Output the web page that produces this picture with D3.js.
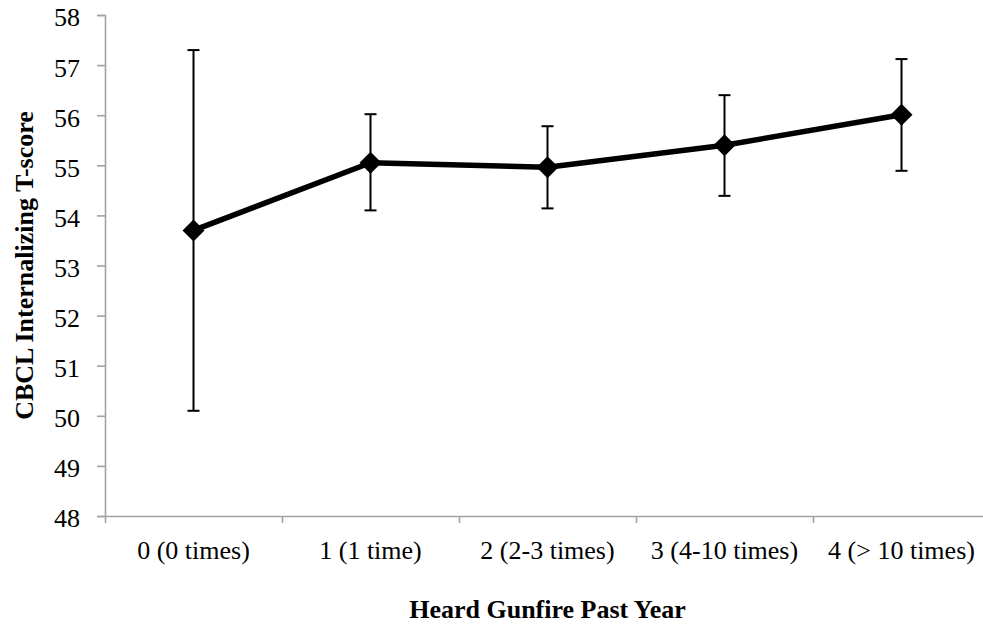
<!DOCTYPE html>
<html>
<head>
<meta charset="utf-8">
<script src="https://cdn.jsdelivr.net/npm/d3@7"></script>
<style>
  html, body { margin: 0; padding: 0; background: #fff; }
  svg { display: block; }
  svg text { font-family: "Times New Roman", Tinos, "Liberation Serif", "DejaVu Serif", serif; fill: #000; }
</style>
</head>
<body>
<svg id="chart" width="983" height="626"></svg>
<script>
// Exposure groups and CBCL internalizing T-score means with error-bar bounds
const categories = ["0 (0 times)", "1 (1 time)", "2 (2-3 times)", "3 (4-10 times)", "4 (> 10 times)"];
const means = [53.70, 55.05, 54.96, 55.40, 56.01];
const upper = [57.30, 56.02, 55.78, 56.40, 57.12];
const lower = [50.10, 54.10, 54.14, 54.39, 54.89];
const yTicks = [48, 49, 50, 51, 52, 53, 54, 55, 56, 57, 58];

const rows = categories.map((c, i) => ({ cat: c, mean: means[i], hi: upper[i], lo: lower[i] }));

const serif = '"Times New Roman", Tinos, "Liberation Serif", "DejaVu Serif", serif';
const svg = d3.select("#chart");
const plotLeft = 105, plotRight = 990, plotTop = 15, plotBottom = 516;
const axisColor = "#a3a3a3";

const x = d3.scaleBand().domain(categories).range([plotLeft, plotRight]).padding(0);
const xEdges = d3.scaleLinear().domain([0, categories.length]).range([plotLeft, plotRight]);
const y = d3.scaleLinear().domain([48, 58]).range([plotBottom, plotTop]);

// Y axis
const gy = svg.append("g")
  .attr("transform", `translate(${plotLeft},0)`)
  .call(d3.axisLeft(y).tickValues(yTicks).tickFormat(d3.format("d")).tickSize(8).tickPadding(17));
gy.attr("font-family", serif);
gy.select(".domain").attr("stroke", axisColor).attr("stroke-width", 1.6);
gy.selectAll(".tick line").attr("stroke", axisColor).attr("stroke-width", 1.6);
gy.selectAll(".tick text")
  .attr("font-family", serif)
  .style("font-size", "26px").attr("fill", "#000").attr("dy", "0.42em");

// X axis: line with tick marks at category boundaries
const gx = svg.append("g")
  .attr("transform", `translate(0,${plotBottom})`)
  .call(d3.axisBottom(xEdges).tickValues(d3.range(categories.length + 1)).tickFormat("").tickSize(7).tickSizeOuter(0));
gx.select(".domain").attr("stroke", axisColor).attr("stroke-width", 1.6);
gx.selectAll(".tick line").attr("stroke", axisColor).attr("stroke-width", 1.6);

// Category labels centred in each band
const gxl = svg.append("g")
  .attr("transform", `translate(0,${plotBottom})`)
  .call(d3.axisBottom(x).tickSize(0).tickPadding(43));
gxl.attr("font-family", serif);
gxl.select(".domain").remove();
gxl.selectAll(".tick text")
  .attr("font-family", serif)
  .style("font-size", "26px").attr("fill", "#000").attr("dy", "0");

// Axis titles
svg.append("text")
  .attr("x", (plotLeft + plotRight) / 2).attr("y", 618)
  .attr("text-anchor", "middle")
  .attr("font-family", serif)
  .style("font-size", "26px").style("font-weight", "bold")
  .text("Heard Gunfire Past Year");

svg.append("text")
  .attr("transform", `translate(33,${(plotTop + plotBottom) / 2}) rotate(-90)`)
  .attr("text-anchor", "middle")
  .attr("font-family", serif)
  .style("font-size", "26px").style("font-weight", "bold")
  .text("CBCL Internalizing T-score");

const cx = d => x(d.cat) + x.bandwidth() / 2;

// Error bars
const eb = svg.append("g").attr("stroke", "#000").attr("stroke-width", 2);
eb.selectAll("line.stem").data(rows).join("line").attr("class", "stem")
  .attr("x1", cx).attr("x2", cx).attr("y1", d => y(d.hi)).attr("y2", d => y(d.lo));
eb.selectAll("line.cap-hi").data(rows).join("line").attr("class", "cap-hi")
  .attr("x1", d => cx(d) - 6).attr("x2", d => cx(d) + 6).attr("y1", d => y(d.hi)).attr("y2", d => y(d.hi));
eb.selectAll("line.cap-lo").data(rows).join("line").attr("class", "cap-lo")
  .attr("x1", d => cx(d) - 6).attr("x2", d => cx(d) + 6).attr("y1", d => y(d.lo)).attr("y2", d => y(d.lo));

// Mean line
svg.append("path").datum(rows)
  .attr("fill", "none").attr("stroke", "#000").attr("stroke-width", 5.5)
  .attr("stroke-linejoin", "round")
  .attr("d", d3.line().x(cx).y(d => y(d.mean)));

// Diamond markers
const diamond = d3.symbol().type(d3.symbolSquare).size(242);
svg.append("g").selectAll("path").data(rows).join("path")
  .attr("transform", d => `translate(${cx(d)},${y(d.mean)}) rotate(45)`)
  .attr("d", diamond())
  .attr("fill", "#000");
</script>
</body>
</html>
